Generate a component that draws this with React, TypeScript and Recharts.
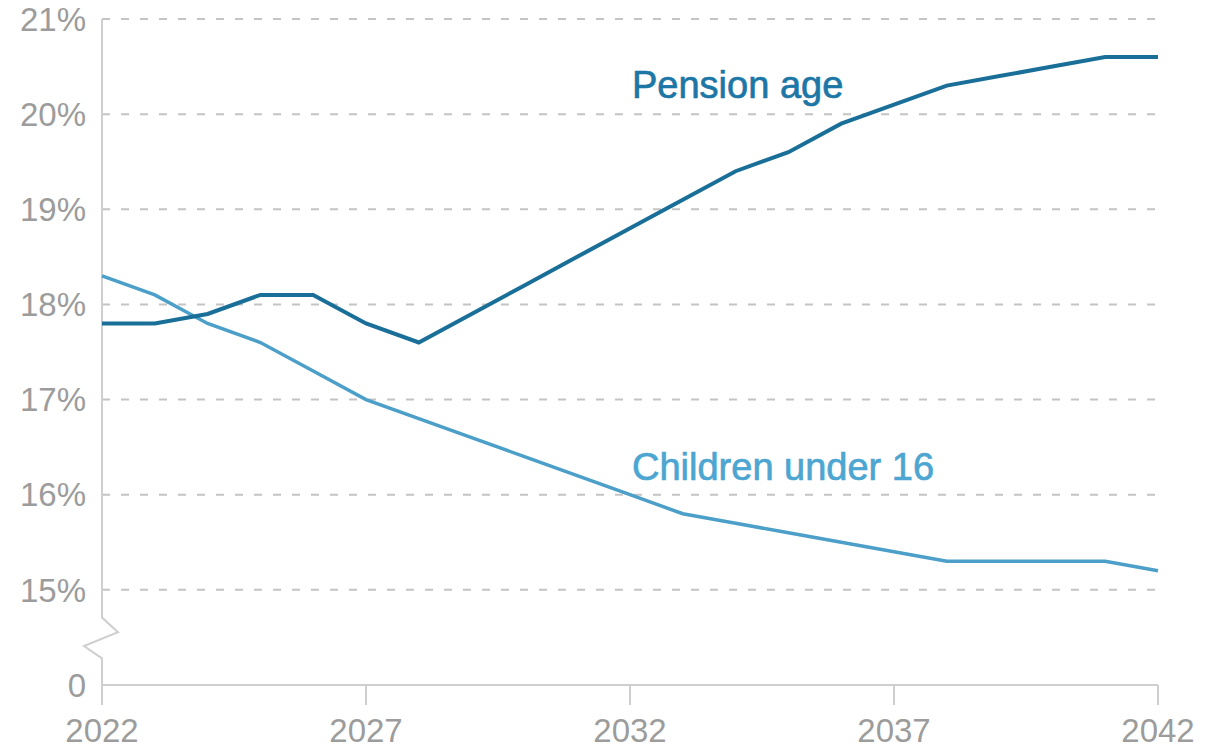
import React from "react";
import {
  LineChart,
  Line,
  XAxis,
  YAxis,
  CartesianGrid,
  ReferenceLine,
  ReferenceDot,
} from "recharts";

const years = [
  2022, 2023, 2024, 2025, 2026, 2027, 2028, 2029, 2030, 2031, 2032, 2033, 2034,
  2035, 2036, 2037, 2038, 2039, 2040, 2041, 2042,
];
const pensionAge = [
  17.8, 17.8, 17.9, 18.1, 18.1, 17.8, 17.6, 17.9, 18.2, 18.5, 18.8, 19.1, 19.4,
  19.6, 19.9, 20.1, 20.3, 20.4, 20.5, 20.6, 20.6,
];
const childrenUnder16 = [
  18.3, 18.1, 17.8, 17.6, 17.3, 17.0, 16.8, 16.6, 16.4, 16.2, 16.0, 15.8, 15.7,
  15.6, 15.5, 15.4, 15.3, 15.3, 15.3, 15.3, 15.2,
];
const xTicks = [2022, 2027, 2032, 2037, 2042];
// 14 on the scale stands for the broken-axis "0"
const yTicks = [14, 15, 16, 17, 18, 19, 20, 21];
const gridValues = [15, 16, 17, 18, 19, 20, 21];
const AXIS_BASE = 14;
const BREAK_TOP = 14.71;
const BREAK_BOTTOM = 14.28;

const seriesLabels = [
  { name: "Pension age", x: 2032, y: 20.17, color: "#1d77a6" },
  { name: "Children under 16", x: 2032, y: 16.15, color: "#4da6d1" },
];

const data = years.map((year, i) => ({
  year,
  pension: pensionAge[i],
  children: childrenUnder16[i],
}));

const FONT = "'Liberation Sans', Arial, Helvetica, sans-serif";
const TICK_COLOR = "#9c9c9c";
const AXIS_COLOR = "#cfcfcf";

const AxisWithBreak = (props: any) => {
  const { x1, y1, x2, y2 } = props;
  const top = Math.min(y1, y2);
  const bottom = Math.max(y1, y2);
  const span = bottom - top;
  const total = 21 - AXIS_BASE;
  const bTop = bottom - (span * (BREAK_TOP - AXIS_BASE)) / total;
  const bBot = bottom - (span * (BREAK_BOTTOM - AXIS_BASE)) / total;
  const h = bBot - bTop;
  const x = x1;
  const d = `M${x},${top} L${x},${bTop} L${x + 16},${bTop + h * 0.36} L${x - 18},${
    bTop + h * 0.7
  } L${x},${bBot} L${x},${bottom}`;
  return <path d={d} fill="none" stroke={AXIS_COLOR} strokeWidth={2} />;
};

export default function App() {
  return (
    <div style={{ position: "absolute", left: 0, top: 0, background: "#fff" }}>
      <LineChart
        width={1220}
        height={748}
        data={data}
        margin={{ top: 19, right: 62, bottom: 0, left: 0 }}
      >
        <CartesianGrid
          vertical={false}
          horizontalValues={gridValues}
          stroke="#c4c4c4"
          strokeWidth={2}
          strokeDasharray="8 11"
        />
        <XAxis
          dataKey="year"
          type="number"
          domain={[2022, 2042]}
          ticks={xTicks}
          axisLine={{ stroke: AXIS_COLOR, strokeWidth: 2 }}
          tickLine={{ stroke: AXIS_COLOR, strokeWidth: 2 }}
          tickSize={20}
          tickMargin={14}
          tick={{ fill: TICK_COLOR, fontSize: 33, fontFamily: FONT }}
          height={63}
        />
        <YAxis
          type="number"
          domain={[AXIS_BASE, 21]}
          ticks={yTicks}
          width={102}
          axisLine={false}
          tickLine={false}
          tickSize={0}
          tickMargin={16}
          tickFormatter={(v: number) => (v === AXIS_BASE ? "0" : `${v}%`)}
          tick={{ fill: TICK_COLOR, fontSize: 33, fontFamily: FONT }}
        />
        <ReferenceLine
          segment={[
            { x: 2022, y: AXIS_BASE },
            { x: 2022, y: 21 },
          ]}
          shape={AxisWithBreak}
        />
        <Line
          type="linear"
          dataKey="children"
          stroke="#4b9fc8"
          strokeWidth={3.5}
          dot={false}
          isAnimationActive={false}
        />
        <Line
          type="linear"
          dataKey="pension"
          stroke="#1a6f98"
          strokeWidth={4}
          dot={false}
          isAnimationActive={false}
        />
        {seriesLabels.map((l) => (
          <ReferenceDot
            key={l.name}
            x={l.x}
            y={l.y}
            r={0}
            shape={(p: any) => (
              <text
                x={p.cx + 2}
                y={p.cy}
                fill={l.color}
                stroke={l.color}
                strokeWidth={0.7}
                fontSize={38}
                fontFamily={FONT}
                textAnchor="start"
              >
                {l.name}
              </text>
            )}
          />
        ))}
      </LineChart>
    </div>
  );
}
